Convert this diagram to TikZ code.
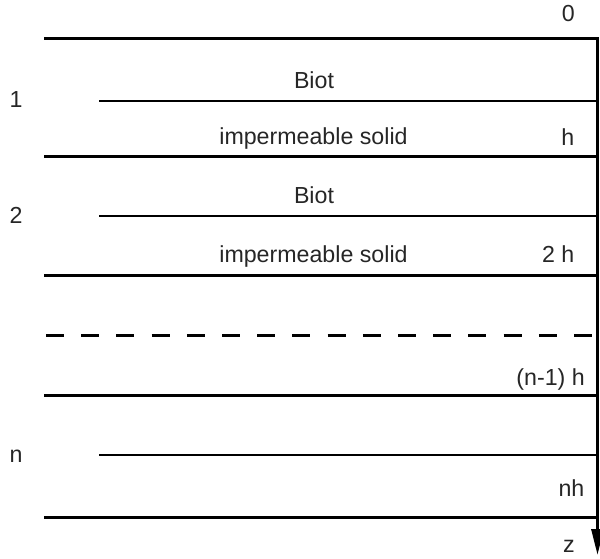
\documentclass[tikz,border=0pt]{standalone}
\usepackage{fontspec}
\setmainfont{Liberation Sans}
\usetikzlibrary{arrows.meta}
\begin{document}
\begin{tikzpicture}[x=1pt,y=-1pt,
  thickline/.style={line width=3pt},
  thinline/.style={line width=1.4pt},
  lbl/.style={inner sep=0pt,text=black!85,font=\fontsize{23.2}{27}\selectfont}]
\useasboundingbox (0,0) rectangle (600,559);
% interfaces
\draw[thickline] (44,39) -- (597.5,39);
\draw[thickline] (44,157) -- (597.5,157);
\draw[thickline] (44,275) -- (597.5,275);
\draw[thickline] (44,395) -- (597.5,395);
\draw[thickline] (44,517) -- (597.5,517);
\draw[thinline] (99,101) -- (597.5,101);
\draw[thinline] (99,216) -- (597.5,216);
\draw[thinline] (99,455) -- (597.5,455);
\draw[line width=3pt,dash pattern=on 18pt off 17.2pt] (46,335) -- (594,335);
% z axis
\coordinate (ztop) at (597.5,37.5);
\coordinate (zend) at (597.5,555);
\draw[line width=3pt,-{Triangle[length=26pt,width=12pt]}] (ztop) -- (zend);
% labels
\node[lbl,anchor=base east] (l0) at (575,22) {0};
\node[lbl,anchor=base] (b1) at (314,89) {Biot};
\node[lbl,anchor=base] (s1) at (313.5,145) {impermeable solid};
\node[lbl,anchor=base east] (h1) at (574.5,146) {h};
\node[lbl,anchor=base west] (n1) at (9.5,108) {1};
\node[lbl,anchor=base] (b2) at (314,204) {Biot};
\node[lbl,anchor=base] (s2) at (313.5,262) {impermeable solid};
\node[lbl,anchor=base east] (h2) at (574.5,262) {2 h};
\node[lbl,anchor=base west] (n2) at (9.5,223) {2};
\node[lbl,anchor=base east] (hn1) at (585,385) {(n-1) h};
\node[lbl,anchor=base west] (nn) at (9.5,462) {n};
\node[lbl,anchor=base east] (hn) at (584.5,496) {nh};
\node[lbl,anchor=base east] (zl) at (575,552) {z};
\end{tikzpicture}
\end{document}
